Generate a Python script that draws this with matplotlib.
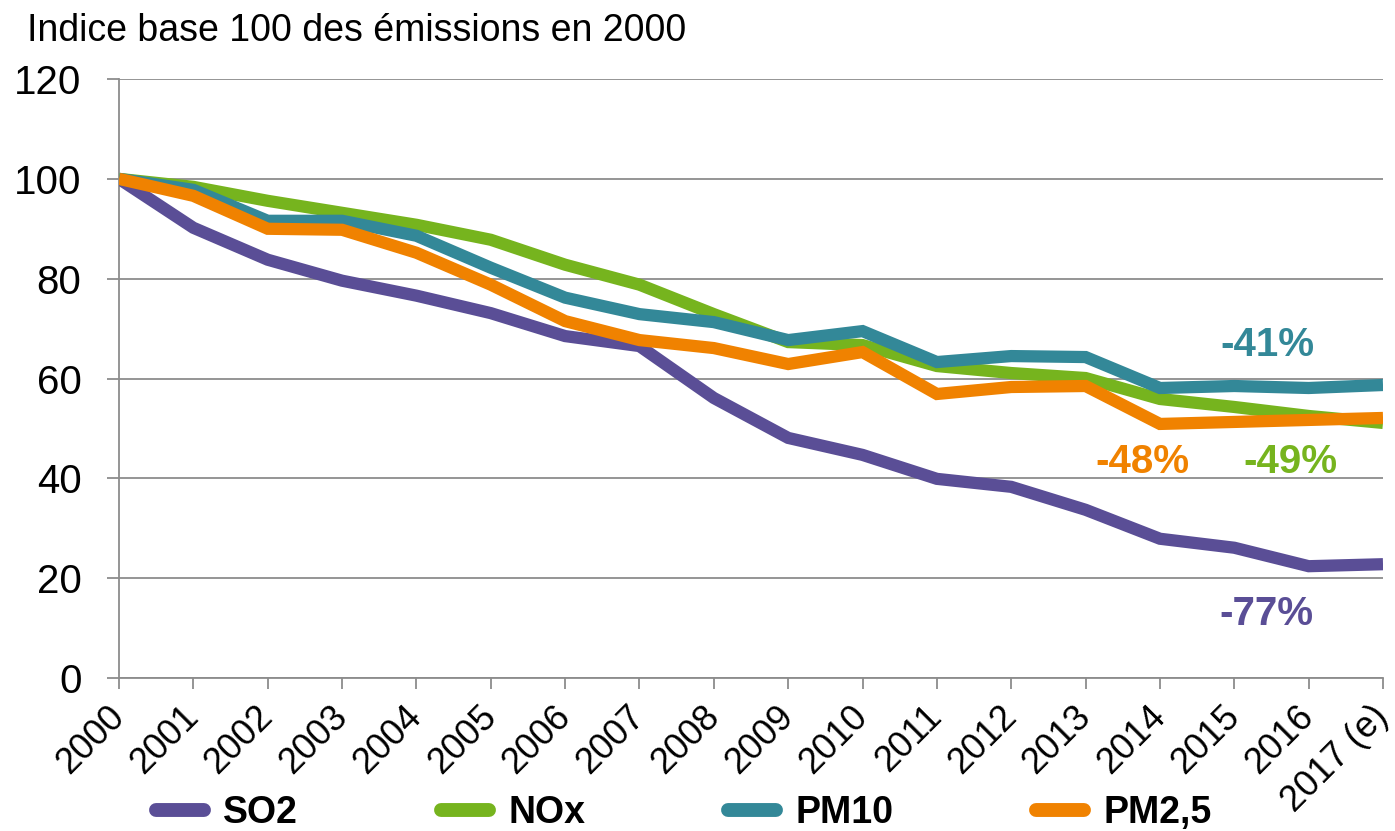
import matplotlib.pyplot as plt
from matplotlib.lines import Line2D

plt.rcParams['font.family'] = ['Liberation Sans', 'DejaVu Sans']

years = ["2000", "2001", "2002", "2003", "2004", "2005", "2006", "2007", "2008",
         "2009", "2010", "2011", "2012", "2013", "2014", "2015", "2016", "2017 (e)"]

so2 = [100, 90.2, 83.8, 79.6, 76.6, 73.1, 68.5, 66.5, 56.1, 48.1, 44.7, 39.9,
       38.3, 33.7, 27.9, 26.1, 22.4, 22.8]
nox = [100, 98.4, 95.6, 93.2, 90.8, 87.8, 82.8, 78.8, 72.9, 67.3, 66.7, 62.5,
       61.1, 60.1, 55.9, 54.3, 52.5, 51.1]
pm10 = [100, 97.8, 91.6, 91.6, 88.6, 82.2, 76.2, 72.9, 71.3, 67.7, 69.5, 63.3,
        64.5, 64.3, 58.1, 58.5, 58.1, 58.7]
pm25 = [100, 96.6, 90.0, 89.8, 85.2, 78.8, 71.5, 67.7, 66.1, 62.9, 65.3, 56.9,
        58.3, 58.5, 50.9, 51.3, 51.7, 52.1]

series_names = ["SO2", "NOx", "PM10", "PM2,5"]
changes = ["-77%", "-49%", "-41%", "-48%"]
colors = ["#5A4E96", "#76B41E", "#338898", "#F08200"]

fig = plt.figure(figsize=(13.95, 8.31), dpi=100)
ax = fig.add_axes([0.0853, 0.1841, 0.9061, 0.7208])

x = list(range(len(years)))
lw = 8.8
for vals, c in zip([so2, nox, pm10, pm25], colors):
    ax.plot(x, vals, color=c, linewidth=lw, solid_joinstyle="miter", solid_capstyle="butt", zorder=3)

ax.set_xlim(0, len(years) - 1)
ax.set_ylim(0, 120)
ax.set_yticks(range(0, 121, 20))
ax.set_xticks(x)
ax.set_xticklabels(years, rotation=45, ha="right", va="center", rotation_mode="anchor", fontsize=26)
ax.tick_params(axis="y", labelsize=29, length=9, color="#8C8C8C", width=1.3, pad=18)
ax.tick_params(axis="x", length=8, color="#8C8C8C", width=1.3, pad=16)
ax.grid(axis="y", color="#8C8C8C", linewidth=1.3, zorder=1)
for s in ["top", "right"]:
    ax.spines[s].set_visible(False)
for s in ["left", "bottom"]:
    ax.spines[s].set_color("#8C8C8C")
    ax.spines[s].set_linewidth(1.3)

# variation 2000 -> 2017
bold = dict(fontsize=29, fontweight="bold", ha="center", va="center")
ax.text(15.43, 12.8, changes[0], color=colors[0], **bold)
ax.text(15.76, 43.3, changes[1], color=colors[1], **bold)
ax.text(15.45, 66.7, changes[2], color=colors[2], **bold)
ax.text(13.76, 43.3, changes[3], color=colors[3], **bold)

fig.text(0.019, 0.963, "Indice base 100 des émissions en 2000", fontsize=27, ha="left", va="center")

handles = [Line2D([], [], color=c, linewidth=10, solid_capstyle="round") for c in colors]
leg = fig.legend(handles, series_names, loc="center", bbox_to_anchor=(0.49, 0.022), ncol=4,
                 frameon=False, handlelength=1.3, columnspacing=3.8, handletextpad=0.5,
                 prop=dict(size=27, weight="bold"))

fig.savefig("out.png", dpi=100)
